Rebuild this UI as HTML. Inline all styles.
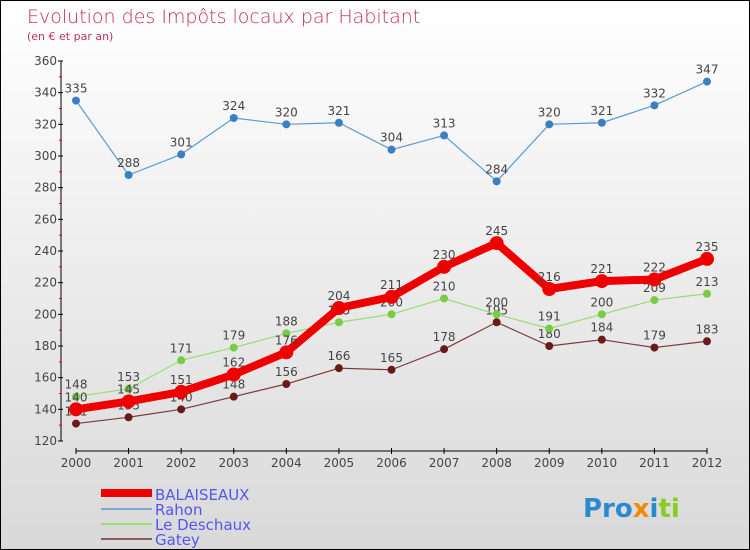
<!DOCTYPE html>
<html><head><meta charset="utf-8"><style>
body{margin:0}
#c{position:relative;width:748px;height:548px;border:1px solid #000;background:linear-gradient(#fff,#d9d9d9);font-family:"DejaVu Sans","Liberation Sans",sans-serif;overflow:hidden}
</style></head><body>
<div id="c">
<svg id="s" width="748" height="548" xmlns="http://www.w3.org/2000/svg">
<text x="26" y="22" font-size="19" fill="#c0305e" style="font-weight:200">Evolution des Impôts locaux par Habitant</text>
<text x="26" y="39" font-size="11" fill="#c0305e">(en € et par an)</text>
<g id="axes"></g><g id="series"></g>
<g font-size="15" fill="#5555ee">
<line x1="100" y1="492" x2="151" y2="492" stroke="#ee0000" stroke-width="8"/>
<text x="154" y="499">BALAISEAUX</text>
<line x1="100" y1="508" x2="151" y2="508" stroke="#7ba8cc" stroke-width="2"/>
<text x="154" y="514">Rahon</text>
<line x1="100" y1="523" x2="151" y2="523" stroke="#99dd77" stroke-width="2"/>
<text x="154" y="529">Le Deschaux</text>
<line x1="100" y1="538" x2="151" y2="538" stroke="#8a5a5a" stroke-width="2"/>
<text x="154" y="544">Gatey</text>
</g>
<text x="582" y="516" font-size="26" font-weight="bold"><tspan fill="#2a8ad0">Pro</tspan><tspan fill="#f08a00">x</tspan><tspan fill="#2a8ad0">i</tspan><tspan fill="#88cc22">ti</tspan></text>
</svg></div>
<script>
const years=[2000,2001,2002,2003,2004,2005,2006,2007,2008,2009,2010,2011,2012];
const balaiseaux=[140,145,151,162,176,204,211,230,245,216,221,222,235];
const rahon=[335,288,301,324,320,321,304,313,284,320,321,332,347];
const leDeschaux=[148,153,171,179,188,195,200,210,200,191,200,209,213];
const gatey=[131,135,140,148,156,166,165,178,195,180,184,179,183];
const yTicks=[120,140,160,180,200,220,240,260,280,300,320,340,360];
const NS="http://www.w3.org/2000/svg";
const X=i=>75+i*(631/12), Y=v=>440-(v-120)*380/240;
function mk(t,a,p){const e=document.createElementNS(NS,t);for(const k in a)e.setAttribute(k,a[k]);p.appendChild(e);return e;}
const ax=document.getElementById('axes');
let l=mk('line',{x1:60,y1:60,x2:60,y2:440,stroke:'#000'},ax);


l=mk('line',{x1:75,y1:450,x2:706,y2:450,stroke:'#000'},ax);


yTicks.forEach((v,i)=>{
 mk('line',{x1:57,y1:Y(v),x2:62,y2:Y(v),stroke:'#000'},ax);
 if(i<yTicks.length-1)mk('line',{x1:58,y1:Y(v+10),x2:61,y2:Y(v+10),stroke:'#e00'},ax);
 const t=mk('text',{x:56,y:Y(v)+4,'font-size':12,fill:'#444','text-anchor':'end'},ax);t.textContent=v;
 
 
});
years.forEach((y,i)=>{
 mk('line',{x1:X(i),y1:447,x2:X(i),y2:453,stroke:'#000'},ax);
 const t=mk('text',{x:X(i),y:466,'font-size':12,fill:'#444','text-anchor':'middle'},ax);t.textContent=y;
 
 
});
const sg=document.getElementById('series');
function series(vals,name,color,dot,w,r){
 const g=mk('g',{},sg);
 
 
 mk('polyline',{points:vals.map((v,i)=>X(i)+','+Y(v)).join(' '),fill:'none',stroke:color,'stroke-width':w,'stroke-linejoin':'round'},g);
 vals.forEach((v,i)=>{
  const c=mk('circle',{cx:X(i),cy:Y(v),r:r,fill:dot},g);
  
  
  const t=mk('text',{x:X(i),y:Y(v)-8,'font-size':12,fill:'#444','text-anchor':'middle'},g);t.textContent=v;
  
  
 });
}
series(gatey,'gatey','#7a3a3a','#6a1a1a',1.2,4);
series(leDeschaux,'le-deschaux','#99dd77','#77cc44',1.2,4);
series(rahon,'rahon','#5a9ad0','#3a80c0',1.2,4);
series(balaiseaux,'balaiseaux','#ee0000','#ee0000',8,7);
</script>
</body></html>
